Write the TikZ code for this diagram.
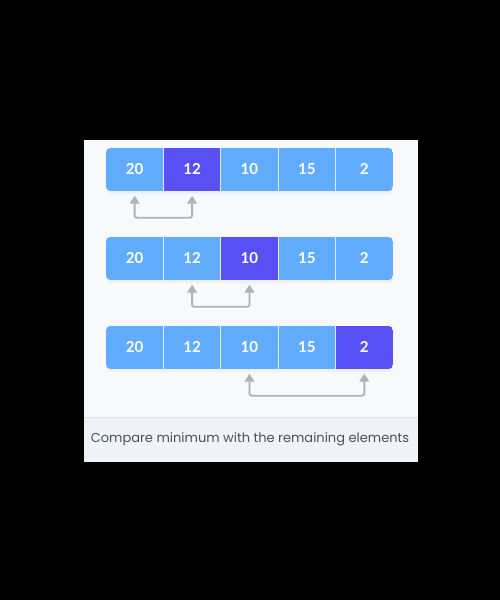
\documentclass[tikz,border=0pt]{standalone}
\usepackage{fontspec}
\setmainfont{Lato}
\newfontfamily\capfont{Poppins}
\usetikzlibrary{arrows.meta, positioning, calc}
\definecolor{cellblue}{RGB}{98,172,255}
\definecolor{minpurple}{RGB}{88,80,245}
\definecolor{panelbg}{RGB}{248,249,251}
\definecolor{capbg}{RGB}{240,243,250}
\definecolor{capline}{RGB}{218,224,236}
\definecolor{captext}{RGB}{75,80,95}
\definecolor{arrowgray}{RGB}{176,178,182}

\begin{document}
\begin{tikzpicture}[x=0.02cm, y=-0.02cm,
    cell/.style={fill=cellblue, minimum width=1.15cm, minimum height=0.86cm,
                 inner sep=0pt, text=white, text height=6.2pt, text depth=0pt,
                 font=\fontsize{8.6}{10}\selectfont\bfseries},
    mincell/.style={cell, fill=minpurple},
    cmp/.style={{Triangle[width=5.5pt,length=4.5pt]}-{Triangle[width=5.5pt,length=4.5pt]},
                line width=1.1pt, arrowgray, rounded corners=1pt},
    caption/.style={font=\capfont\fontsize{7.4}{9}\selectfont, text=captext}
  ]
    \fill[black] (0,0) rectangle (500,600);
    \useasboundingbox (0,0) rectangle (500,600);

    % panel and caption band
    \fill[panelbg] (84,140) rectangle (418,462);
    \fill[capbg] (84,417) rectangle (418,462);
    \draw[capline, line width=0.5pt] (84,417) -- (418,417);

    % three passes, index of the current minimum candidate
    \foreach \r/\y/\m in {1/169.5/2, 2/258.5/3, 3/347.5/5} {
        \fill[black!6, rounded corners=2.5pt] (107,\y-19.5) rectangle (393,\y+24.5);
        \begin{scope}
            \clip[rounded corners=2.5pt] (106,\y-21.5) rectangle (393,\y+21.5);
            \foreach \c/\v in {1/20, 2/12, 3/10, 4/15, 5/2} {
                \ifnum\c=\m
                    \node[mincell] (r\r-\c) at (106+57.4*\c-28.7,\y) {\v};
                \else
                    \node[cell] (r\r-\c) at (106+57.4*\c-28.7,\y) {\v};
                \fi
            }
            \foreach \c in {2,...,5}
                \draw[white!80!cellblue, line width=0.5pt]
                    (106+57.4*\c-57.4,\y-21.5) -- (106+57.4*\c-57.4,\y+21.5);
        \end{scope}
    }

    % comparisons
    \draw[cmp] ([yshift=-2.5pt]r1-1.south) -- ++(0,-0.44cm) -| ([yshift=-2.5pt]r1-2.south);
    \draw[cmp] ([yshift=-2.5pt]r2-2.south) -- ++(0,-0.44cm) -| ([yshift=-2.5pt]r2-3.south);
    \draw[cmp] ([yshift=-2.5pt]r3-3.south) -- ++(0,-0.44cm) -| ([yshift=-2.5pt]r3-5.south);

    \node[caption] (cap) at (250,439) {Compare minimum with the remaining elements};
\end{tikzpicture}
\end{document}
